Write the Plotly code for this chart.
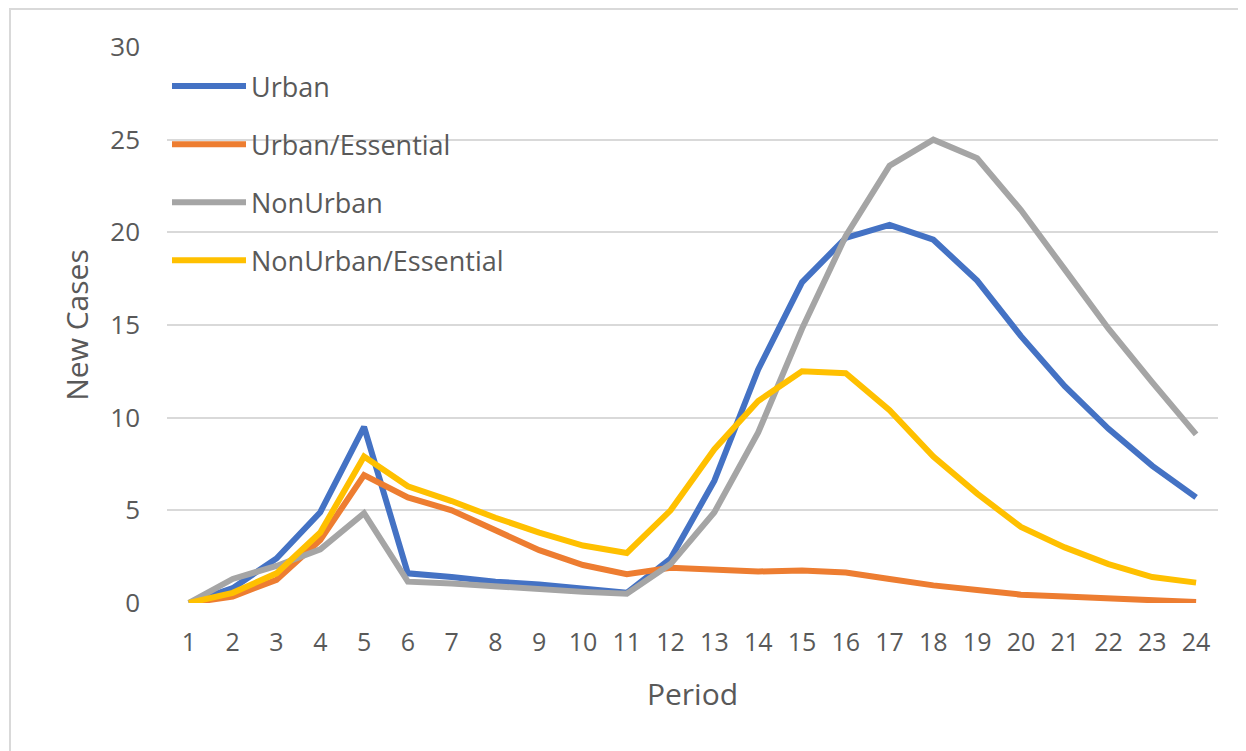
import plotly.graph_objects as go

periods = [str(i) for i in range(1, 25)]
urban = [0, 0.8, 2.4, 4.9, 9.5, 1.6, 1.4, 1.15, 1.0, 0.8, 0.55, 2.4, 6.6, 12.6, 17.3, 19.7, 20.4, 19.6, 17.4, 14.4, 11.7, 9.4, 7.4, 5.7]
urban_ess = [0, 0.35, 1.25, 3.4, 6.9, 5.7, 5.0, 3.9, 2.85, 2.05, 1.55, 1.9, 1.8, 1.7, 1.75, 1.65, 1.3, 0.95, 0.7, 0.45, 0.35, 0.25, 0.15, 0.05]
nonurban = [0, 1.3, 2.0, 2.9, 4.85, 1.15, 1.05, 0.9, 0.7, 0.6, 0.5, 2.1, 4.9, 9.2, 14.8, 19.8, 23.6, 25.0, 24.0, 21.2, 18.0, 14.8, 11.9, 9.1]
nonurban_ess = [0, 0.55, 1.6, 3.8, 7.9, 6.3, 5.5, 4.6, 3.8, 3.1, 2.7, 5.0, 8.3, 10.9, 12.5, 12.4, 10.4, 7.9, 5.9, 4.1, 3.0, 2.1, 1.4, 1.1]

series_names = ["Urban", "Urban/Essential", "NonUrban", "NonUrban/Essential"]
series_values = [urban, urban_ess, nonurban, nonurban_ess]
colors = ["#4472C4", "#ED7D31", "#A5A5A5", "#FFC000"]

fig = go.Figure()
for i, (name, vals, col) in enumerate(zip(series_names, series_values, colors)):
    fig.add_trace(go.Scatter(
        x=periods, y=vals, mode="lines", name=name,
        line=dict(color=col, width=6), legendgroup=f"g{i}",
    ))

font_family = "Open Sans, Noto Sans, sans-serif"
fig.update_layout(
    width=1238, height=743,
    margin=dict(l=159, r=28, t=39, b=148),
    paper_bgcolor="white", plot_bgcolor="white",
    font=dict(family=font_family, color="#595959", size=26),
    showlegend=True,
    legend=dict(
        x=0.0, y=0.973, xanchor="left", yanchor="top",
        bgcolor="rgba(0,0,0,0)", tracegroupgap=20,
        font=dict(size=27, color="#595959"), itemwidth=74,
    ),
    xaxis=dict(
        type="category", range=[-0.5, 23.5], showgrid=False, zeroline=False, showline=False,
        ticks="", tickfont=dict(size=25), ticklabelstandoff=22,
        title=dict(text="Period", font=dict(size=30), standoff=26),
    ),
    yaxis=dict(
        range=[0, 30], dtick=5, showgrid=True, gridcolor="#D9D9D9", gridwidth=2,
        zeroline=False, showline=False, ticks="", tickfont=dict(size=26),
        ticklabelstandoff=26,
        title=dict(text="New Cases", font=dict(size=30), standoff=12),
    ),
    shapes=[dict(
        type="rect", xref="paper", yref="paper",
        x0=-0.1494, x1=1.2, y0=-0.5, y1=1.0683,
        line=dict(color="#D9D9D9", width=2), fillcolor="rgba(0,0,0,0)", layer="below",
    )],
)

fig.write_html("out.html")
